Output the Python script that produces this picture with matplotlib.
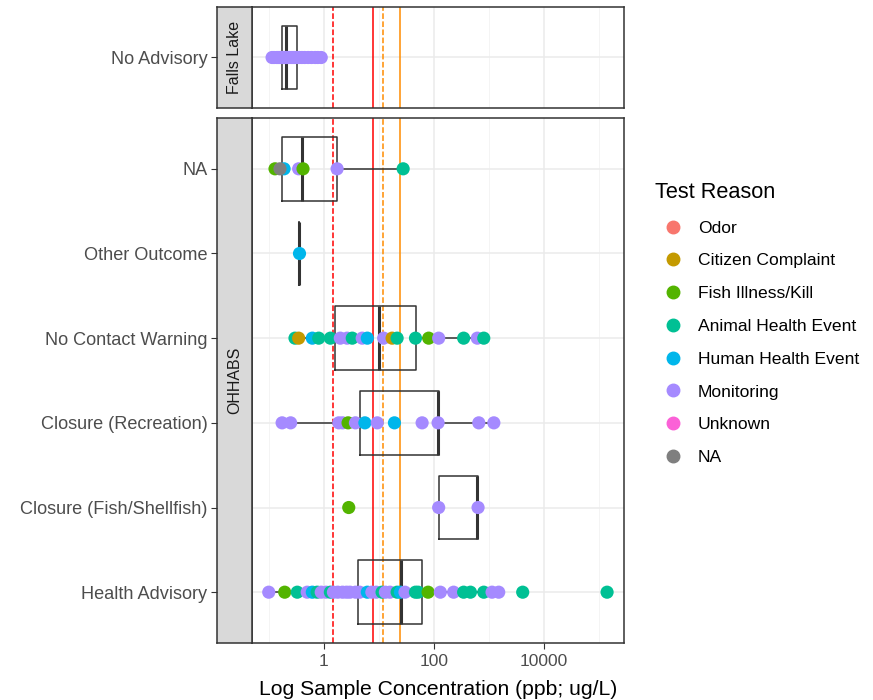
import matplotlib.pyplot as plt
from matplotlib.lines import Line2D

plt.rcParams['font.family'] = ['Liberation Sans', 'DejaVu Sans']

# test reasons and ggplot hue colours
reasons = ['Odor', 'Citizen Complaint', 'Fish Illness/Kill', 'Animal Health Event',
           'Human Health Event', 'Monitoring', 'Unknown', 'NA']
reason_colors = ['#F8766D', '#C49A00', '#53B400', '#00C094',
                 '#00B6EB', '#A58AFF', '#FB61D7', '#7F7F7F']
col = dict(zip(reasons, reason_colors))

# guideline concentrations (ppb)
vline_vals = [1.5, 8, 12, 24]
vline_colors = ['red', 'red', 'darkorange', 'darkorange']
vline_styles = ['--', '-', '--', '-']

# ---- Falls Lake panel ----
falls_cats = ['No Advisory']
falls_vals = [0.115, 0.125, 0.14, 0.15, 0.16, 0.17, 0.18, 0.19, 0.2, 0.21, 0.22,
              0.24, 0.26, 0.28, 0.3, 0.33, 0.36, 0.4, 0.45, 0.52, 0.6, 0.7, 0.78, 0.9]
falls_reason = ['Monitoring'] * len(falls_vals)
falls_box = [0.115, 0.175, 0.21, 0.32, 0.6]   # lo, q1, med, q3, hi

# ---- OHHABS panel (bottom to top) ----
ohhabs_cats = ['Health Advisory', 'Closure (Fish/Shellfish)', 'Closure (Recreation)',
               'No Contact Warning', 'Other Outcome', 'NA']

health_vals = [0.1, 0.195, 0.33, 0.5, 0.62, 0.76, 0.9, 1.1, 1.32, 1.5, 1.8, 2.2, 2.6,
               3.0, 3.8, 4.5, 6.2, 7.5, 9.0, 11.5, 13.2, 16, 21.6, 24.8, 30, 46.5,
               52, 79, 132, 230, 350, 465, 813, 1150, 1520, 4150, 142000]
health_reason = ['Monitoring', 'Fish Illness/Kill', 'Animal Health Event', 'Monitoring',
                 'Human Health Event', 'Animal Health Event', 'Monitoring', 'Monitoring',
                 'Animal Health Event', 'Monitoring', 'Monitoring', 'Monitoring',
                 'Monitoring', 'Monitoring', 'Monitoring', 'Monitoring', 'Human Health Event',
                 'Monitoring', 'Monitoring', 'Animal Health Event', 'Monitoring', 'Monitoring',
                 'Animal Health Event', 'Human Health Event', 'Monitoring',
                 'Animal Health Event', 'Animal Health Event', 'Fish Illness/Kill',
                 'Monitoring', 'Monitoring', 'Animal Health Event', 'Animal Health Event',
                 'Animal Health Event', 'Monitoring', 'Monitoring', 'Animal Health Event',
                 'Animal Health Event']
health_box = [0.1, 4.2, 25.5, 61.5, 1870]

fish_vals = [2.85, 123, 640]
fish_reason = ['Fish Illness/Kill', 'Monitoring', 'Monitoring']
fish_box = [123, 123, 620, 640, 640]

rec_vals = [0.175, 0.25, 1.88, 2.2, 2.77, 3.77, 5.6, 9.4, 19.3, 61.5, 120, 660, 1240]
rec_reason = ['Monitoring', 'Monitoring', 'Monitoring', 'Monitoring', 'Fish Illness/Kill',
              'Monitoring', 'Human Health Event', 'Monitoring', 'Human Health Event',
              'Monitoring', 'Monitoring', 'Monitoring', 'Monitoring']
rec_box = [0.175, 4.5, 120, 125, 1240]

nocontact_vals = [0.3, 0.35, 0.62, 0.81, 1.32, 2.0, 2.66, 3.3, 5.0, 6.2, 12.3, 17.5,
                  21.6, 46.6, 81, 123, 350, 620, 813]
nocontact_reason = ['Animal Health Event', 'Citizen Complaint', 'Human Health Event',
                    'Animal Health Event', 'Animal Health Event', 'Monitoring', 'Monitoring',
                    'Animal Health Event', 'Monitoring', 'Human Health Event', 'Monitoring',
                    'Citizen Complaint', 'Animal Health Event', 'Animal Health Event',
                    'Fish Illness/Kill', 'Monitoring', 'Animal Health Event', 'Monitoring',
                    'Animal Health Event']
nocontact_box = [0.3, 1.63, 10.3, 48.5, 813]

other_vals = [0.36]
other_reason = ['Human Health Event']
other_box = [0.36, 0.36, 0.36, 0.36, 0.36]

na_vals = [0.13, 0.19, 0.16, 0.35, 0.42, 1.75, 27.8]
na_reason = ['Fish Illness/Kill', 'Human Health Event', 'NA', 'Monitoring',
             'Fish Illness/Kill', 'Monitoring', 'Animal Health Event']
na_box = [0.13, 0.175, 0.4, 1.75, 27.8]

ohhabs_vals = [health_vals, fish_vals, rec_vals, nocontact_vals, other_vals, na_vals]
ohhabs_reason = [health_reason, fish_reason, rec_reason, nocontact_reason, other_reason, na_reason]
ohhabs_box = [health_box, fish_box, rec_box, nocontact_box, other_box, na_box]

W, H = 873, 700
fig = plt.figure(figsize=(W / 100, H / 100), dpi=100)


def px_axes(x0, y0, x1, y1):
    return fig.add_axes([x0 / W, 1 - y1 / H, (x1 - x0) / W, (y1 - y0) / H])


def draw_panel(ax, strip, cats, vals_list, reason_list, box_list, name, xaxis):
    pos = list(range(1, len(cats) + 1))
    ax.set_xscale('log')
    ax.set_xlim(10 ** -1.31, 10 ** 5.46)
    ax.set_ylim(0.4, len(cats) + 0.6)
    ax.set_xticks([1, 100, 10000])
    ax.set_xticks([0.1, 10, 1000, 100000], minor=True)
    ax.set_yticks(pos)
    ax.grid(which='major', color='#EBEBEB', lw=1.1)
    ax.grid(which='minor', axis='x', color='#F2F2F2', lw=0.6)
    ax.set_axisbelow(True)
    ax.tick_params(axis='y', left=False, labelleft=False)
    ax.tick_params(which='minor', bottom=False, labelbottom=False)
    if xaxis:
        ax.set_xticklabels(['1', '100', '10000'])
        ax.tick_params(axis='x', which='major', length=4, color='#333333',
                       labelsize=12.5, labelcolor='#4D4D4D', pad=4)
        ax.set_xlabel('Log Sample Concentration (ppb; ug/L)', fontsize=15.2, labelpad=8)
    else:
        ax.tick_params(axis='x', which='major', bottom=False, labelbottom=False)
    for s in ax.spines.values():
        s.set_color('#333333')
        s.set_linewidth(1.1)

    for v, c, ls in zip(vline_vals, vline_colors, vline_styles):
        ax.axvline(v, color=c, ls=ls, lw=1.1, zorder=1)

    stats = [dict(whislo=b[0], q1=b[1], med=b[2], q3=b[3], whishi=b[4]) for b in box_list]
    lp = dict(color='#333333', lw=1.1)
    ax.bxp(stats, positions=pos, widths=0.75, orientation='horizontal', showfliers=False,
           showcaps=False, boxprops=lp, whiskerprops=lp,
           medianprops=dict(color='#333333', lw=2.2), manage_ticks=False, zorder=2)

    for p, vals, rs in zip(pos, vals_list, reason_list):
        ax.scatter(vals, [p] * len(vals), c=[col[r] for r in rs], s=90, lw=0, zorder=3)

    strip.set_facecolor('#D9D9D9')
    strip.set_ylim(ax.get_ylim())
    strip.set_xticks([])
    strip.set_yticks(pos)
    strip.set_yticklabels(cats)
    strip.tick_params(axis='y', length=4, color='#333333', labelsize=13.1,
                      labelcolor='#4D4D4D', pad=3)
    for s in strip.spines.values():
        s.set_color('#333333')
        s.set_linewidth(1.1)
    strip.text(0.5, 0.5, name, rotation=90, ha='center', va='center',
               transform=strip.transAxes, fontsize=11.5, color='#1A1A1A')


top = px_axes(251.7, 7, 624, 108)
bot = px_axes(251.7, 118, 624, 643)
top_strip = px_axes(217, 7, 251.7, 108)
bot_strip = px_axes(217, 118, 251.7, 643)

draw_panel(top, top_strip, falls_cats, [falls_vals], [falls_reason], [falls_box],
           'Falls Lake', False)
draw_panel(bot, bot_strip, ohhabs_cats, ohhabs_vals, ohhabs_reason, ohhabs_box,
           'OHHABS', True)

handles = [Line2D([], [], marker='o', ls='', color=c, markersize=9) for c in reason_colors]
fig.legend(handles, reasons, title='Test Reason', loc='upper left',
           bbox_to_anchor=(648 / W, 1 - 175 / H), frameon=False, fontsize=12.6,
           title_fontsize=15.7, labelspacing=1.0, handletextpad=0.45,
           alignment='left', borderaxespad=0)

fig.savefig('out.png', dpi=100)
